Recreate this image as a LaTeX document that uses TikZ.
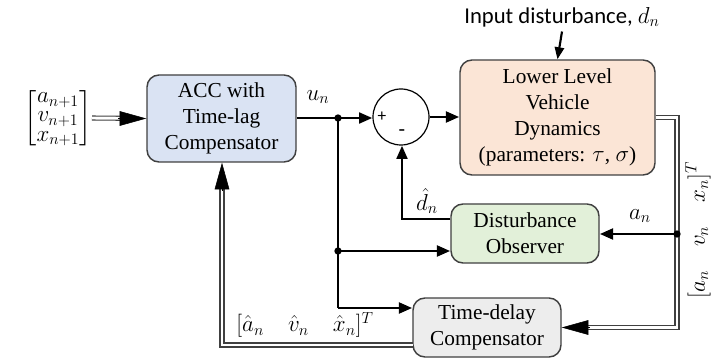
\documentclass[tikz,border=0pt]{standalone}
\usepackage{amsmath}
\usepackage{fontspec}
\setmainfont{Liberation Serif}
\newfontfamily\calfont{Carlito}
\usetikzlibrary{arrows.meta,calc}
\definecolor{accfill}{HTML}{DAE3F3}
\definecolor{llfill}{HTML}{FBE5D6}
\definecolor{dofill}{HTML}{E2F0D9}
\definecolor{tdfill}{HTML}{EDEDED}
\definecolor{bord}{HTML}{404040}
\tikzset{
  blockbox/.style={draw=bord, line width=1.1pt, rounded corners=9pt, align=center,
    font=\fontsize{16}{19.5}\selectfont, inner sep=2pt},
  sig/.style={line width=2.2pt, -{Triangle[length=10pt,width=8pt]}},
  sigline/.style={line width=2.2pt},
  dbl/.style={draw=bord, double=white, double distance=2.2pt, line width=0.8pt, shorten >=17pt},
  bigtip/.style={draw=black, fill=black, line width=0.4pt, -{Triangle[length=20pt,width=11pt]}},
  jdot/.style={circle, fill=black, inner sep=0pt, minimum size=5.5pt},
  lbl/.style={font=\fontsize{18}{21}\selectfont},
}
\begin{document}
\begin{tikzpicture}[x=0.75pt,y=-0.75pt]
\useasboundingbox (0,0) rectangle (715,360);
% blocks
\node[blockbox, fill=accfill, minimum width=111.75pt, minimum height=65.25pt] (acc) at (221.5,118.5) {ACC with\\Time-lag\\Compensator};
\node[blockbox, fill=llfill, minimum width=146.25pt, minimum height=86.25pt] (ll) at (557.5,117.5) {Lower Level\\Vehicle\\Dynamics\\(parameters: $\tau$, $\sigma$)};
\node[blockbox, fill=dofill, minimum width=111pt, minimum height=44.25pt] (do) at (525,233.5) {Disturbance\\Observer};
\node[blockbox, fill=tdfill, minimum width=111pt, minimum height=44.25pt] (td) at (487,327.5) {Time-delay\\Compensator};
\node[draw=black, line width=0.9pt, circle, minimum size=42pt, inner sep=0pt] (sum) at (401,117) {};
\node[font=\calfont\fontsize{13}{13}\selectfont] (plus) at (382,117) {+};
\node[font=\calfont\fontsize{16}{16}\selectfont] (minus) at (402,133) {-};
% input vector
\node[font=\fontsize{17}{18}\selectfont] (vec) at (58,118) {$\renewcommand{\arraystretch}{0.8}\begin{bmatrix}a_{n+1}\\ v_{n+1}\\ x_{n+1}\end{bmatrix}$};
\coordinate (vecr) at (92,118);
\draw[dbl] (vecr) -- (acc.west);
\draw[bigtip] ($(acc.west)+(-28,0)$) -- (acc.west);
% disturbance input
\node[font=\calfont\fontsize{17}{20}\selectfont] (dist) at (562,17) {Input disturbance, $d_n$};
\draw[line width=1.6pt, -{Triangle[length=9pt,width=7pt]}] (dist.south) -- (ll.north);
% u_n path
\coordinate (j1) at (338,118);
\coordinate (j2) at (338,251);
\coordinate (j3) at (338,308);
\draw[sig] (acc.east |- j1) -- (sum.west |- j1);
\node[lbl] (un) at (318,97) {$u_n$};
\draw[sigline] (j1) -- (j3);
\draw[sig] (j2) -- (do.west |- j2);
\draw[sig] (j3) -- (td.west |- j3);
\node[jdot] at (j1) {};
\node[jdot] at (j2) {};
% sum to plant
\draw[sig] (sum.east) -- (ll.west |- sum.east);
% d hat feedback
\coordinate (dh) at (402,219);
\draw[sig] (do.west |- dh) -- (dh) -- (sum.south -| dh);
\node[lbl] (dhat) at (427,201) {$\hat{d}_n$};
% output double path
\coordinate (r1) at (677,117.5);
\coordinate (r2) at (677,327.5);
\coordinate (j4) at (677,234);
\draw[dbl] (ll.east) -- (r1) -- (r2) -- (td.east);
\draw[bigtip] ($(td.east)+(28,0)$) -- (td.east);
\draw[sig] (j4) -- (do.east |- j4);
\node[jdot] at (j4) {};
\node[lbl] (an) at (640,216) {$a_n$};
\node[lbl, rotate=90] (outv) at (698,230) {$[a_n\quad v_n\quad x_n]^T$};
% estimate feedback
\coordinate (b1) at (413,345);
\coordinate (b2) at (222,345);
\coordinate (accb) at (acc.south -| b2);
\draw[dbl] (b1) -- (b2) -- (accb);
\draw[bigtip] ($(accb)+(0,28)$) -- (accb);
\node[lbl] (est) at (305,325) {$[\hat{a}_n\quad \hat{v}_n\quad \hat{x}_n]^T$};
\end{tikzpicture}
\end{document}
